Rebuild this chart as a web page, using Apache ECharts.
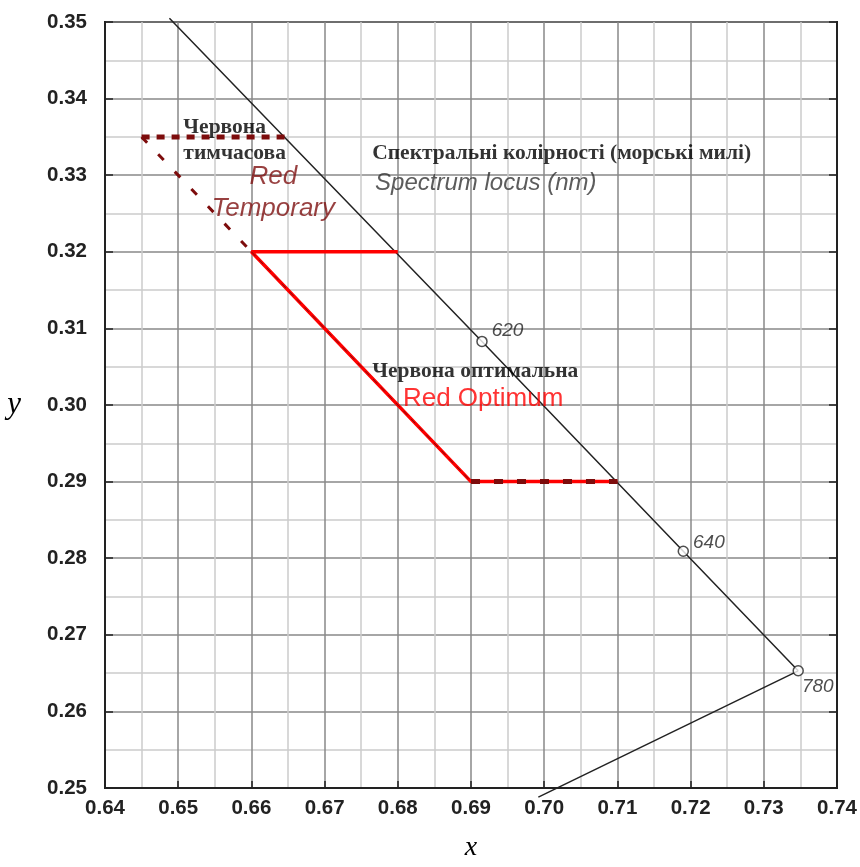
<!DOCTYPE html>
<html>
<head>
<meta charset="utf-8">
<script src="https://cdn.jsdelivr.net/npm/echarts@6/dist/echarts.min.js"></script>
<style>html,body{margin:0;padding:0;background:#fff;overflow:hidden}#c{width:860px;height:100vh}</style>
</head>
<body>
<div id="c"></div>
<script>
// ---- Data ----
const xMin = 0.64, xMax = 0.74, xStep = 0.01;
const yMin = 0.25, yMax = 0.35, yStep = 0.01;
const xAxisName = 'x';
const yAxisName = 'y';

// spectrum locus (CIE x, y)
const locusX = [0.6488, 0.6915, 0.7190, 0.7347];
const locusY = [0.3505, 0.3083, 0.2809, 0.2653];
// purple line from 780 nm towards 380 nm (extends past axis)
const purpleX = [0.7347, 0.6992];
const purpleY = [0.2653, 0.2488];
// wavelength markers
const waveLabels = ['620', '640', '780'];
const waveX = [0.6915, 0.7190, 0.7347];
const waveY = [0.3083, 0.2809, 0.2653];

// Red Optimum boundary (solid red)
const optX = [0.68, 0.66, 0.69, 0.71];
const optY = [0.32, 0.32, 0.29, 0.29];
// dark dashed overlay on optimum bottom edge
const optDashX = [0.69, 0.71];
const optDashY = [0.29, 0.29];
// Red Temporary boundary (dark red dashed)
const tmpTopX = [0.645, 0.665];
const tmpTopY = [0.335, 0.335];
const tmpDiagX = [0.645, 0.66];
const tmpDiagY = [0.335, 0.32];

// annotations
const annotTexts = ['Червона\nтимчасова', 'Red\nTemporary', 'Спектральні колірності (морські милі)', 'Spectrum locus (nm)', 'Червона оптимальна', 'Red Optimum'];
const annotX = [0.6507, 0.6630, 0.6765, 0.6769, 0.6765, 0.6807];
const annotY = [0.3346, 0.3277, 0.3329, 0.3290, 0.3044, 0.3008];

// ---- Chart ----
const zip = (xs, ys) => xs.map((x, i) => [x, ys[i]]);
const DARKRED = '#7d0c0c';
const RED = '#ff0000';

const annotStyles = [
  {position: 'right', distance: 0, fontFamily: 'Liberation Serif', fontWeight: 'bold', fontSize: 21.5, color: '#000', lineHeight: 26},
  {position: 'inside', fontFamily: 'Liberation Sans', fontStyle: 'italic', fontSize: 26, color: '#7e1010', lineHeight: 32, align: 'center'},
  {position: 'right', distance: 0, fontFamily: 'Liberation Serif', fontWeight: 'bold', fontSize: 21.5, color: '#000'},
  {position: 'right', distance: 0, fontFamily: 'Liberation Sans', fontStyle: 'italic', fontSize: 24, color: '#333'},
  {position: 'right', distance: 0, fontFamily: 'Liberation Serif', fontWeight: 'bold', fontSize: 21.5, color: '#000'},
  {position: 'right', distance: 0, fontFamily: 'Liberation Sans', fontSize: 26, color: RED}
];

const waveLabelPos = [[15.5, -14], [15.5, -12], [9.5, 12]];

const chart = echarts.init(document.getElementById('c'));
const lineSeries = (data, color, width, type, z) => ({
  type: 'line', data, symbol: 'none', clip: false, z: z || 3, silent: true,
  lineStyle: {color, width, type: type || 'solid', cap: 'butt'}
});

chart.setOption({
  animation: false,
  backgroundColor: '#fff',
  grid: {left: 105, right: 23, top: 22, bottom: 63, show: true, borderColor: '#222', borderWidth: 2, backgroundColor: 'transparent', containLabel: false},
  xAxis: {
    type: 'value', min: xMin, max: xMax, interval: xStep,
    name: xAxisName, nameLocation: 'middle', nameGap: 46,
    nameTextStyle: {fontFamily: 'Liberation Serif', fontStyle: 'italic', fontSize: 28, color: '#000'},
    axisLine: {show: true, lineStyle: {color: '#222', width: 2}},
    axisTick: {show: true, inside: true, length: 7, lineStyle: {color: '#222', width: 1.5}},
    axisLabel: {margin: 10, fontFamily: 'Liberation Sans', fontWeight: 'bold', fontSize: 20.5, color: '#222', formatter: v => v.toFixed(2)},
    splitLine: {show: true, lineStyle: {color: '#888', width: 1.5}},
    minorTick: {show: false, splitNumber: 2},
    minorSplitLine: {show: true, lineStyle: {color: '#cccccc', width: 1.5}}
  },
  yAxis: [{
    type: 'value', min: yMin, max: yMax, interval: yStep,
    name: yAxisName, nameLocation: 'middle', nameGap: 84, nameRotate: 0,
    nameTextStyle: {fontFamily: 'Liberation Serif', fontStyle: 'italic', fontSize: 31, color: '#000'},
    axisLine: {show: true, lineStyle: {color: '#222', width: 2}},
    axisTick: {show: true, inside: true, length: 8, lineStyle: {color: '#222', width: 1.5}},
    axisLabel: {margin: 18, fontFamily: 'Liberation Sans', fontWeight: 'bold', fontSize: 20.5, color: '#222', formatter: v => v.toFixed(2)},
    splitLine: {show: true, lineStyle: {color: '#888', width: 1.5}},
    minorTick: {show: false, splitNumber: 2},
    minorSplitLine: {show: true, lineStyle: {color: '#cccccc', width: 1.5}}
  }, {
    type: 'value', min: yMin, max: yMax, interval: yStep, position: 'right',
    axisLine: {show: true, lineStyle: {color: '#222', width: 2}},
    axisTick: {show: true, inside: true, length: 8, lineStyle: {color: '#222', width: 1.5}},
    axisLabel: {show: false}, splitLine: {show: false}
  }],
  series: [
    lineSeries(zip(locusX, locusY), '#222', 1.5, 'solid', 4),
    lineSeries(zip(purpleX, purpleY), '#222', 1.5, 'solid', 4),
    lineSeries(zip(optX, optY), RED, 3.5, 'solid', 5),
    lineSeries(zip(optDashX, optDashY), DARKRED, 5, [9, 14], 6),
    lineSeries(zip(optX.slice(1, 3), optY.slice(1, 3)), DARKRED, 1, [6, 5], 6),
    lineSeries(zip(tmpTopX, tmpTopY), DARKRED, 5, [8, 7], 6),
    lineSeries(zip(tmpDiagX, tmpDiagY), DARKRED, 3, [8, 16], 6),
    {
      type: 'scatter', z: 8, silent: true,
      symbol: 'circle', symbolSize: 10,
      itemStyle: {color: '#fff', borderColor: '#222', borderWidth: 1.5},
      data: waveX.map((x, i) => ({
        value: [x, waveY[i]],
        label: {show: true, position: waveLabelPos[i], formatter: waveLabels[i],
          fontFamily: 'Liberation Sans', fontStyle: 'italic', fontSize: 19, color: '#222'}
      }))
    },
    {
      type: 'scatter', z: 9, silent: true, symbolSize: 0,
      data: annotX.map((x, i) => ({
        value: [x, annotY[i]],
        label: Object.assign({show: true, formatter: annotTexts[i]}, annotStyles[i])
      }))
    }
  ]
});
</script>
</body>
</html>
